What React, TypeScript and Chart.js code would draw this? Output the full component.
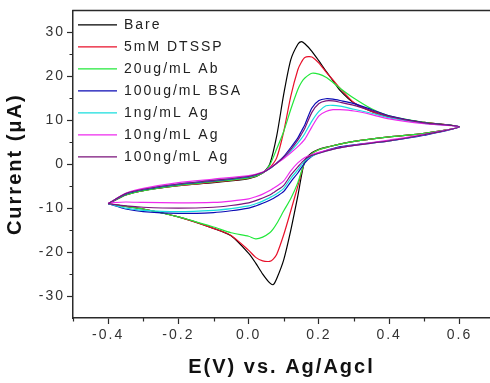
import React, { useEffect, useRef } from "react";
import { Chart, registerables } from "chart.js";

Chart.register(...registerables);

// ---- data ----
const seriesLabels = [
  "Bare",
  "5mM DTSSP",
  "20ug/mL Ab",
  "100ug/mL BSA",
  "1ng/mL Ag",
  "10ng/mL Ag",
  "100ng/mL Ag",
];
const seriesColors = ["#000000", "#e8102a", "#22e83a", "#0a0ab4", "#18dede", "#ee2aee", "#7a127a"];

// forward (anodic) scan potentials, V
const forwardE = [-0.4, -0.35, -0.3, -0.2, -0.1, 0, 0.04, 0.06, 0.08, 0.1, 0.12, 0.14, 0.15, 0.16, 0.18, 0.2, 0.22, 0.24, 0.26, 0.3, 0.35, 0.4, 0.5, 0.6];
// reverse (cathodic) scan potentials, V
const reverseE = [0.5, 0.4, 0.3, 0.25, 0.2, 0.18, 0.16, 0.14, 0.12, 0.1, 0.08, 0.07, 0.06, 0.04, 0.02, 0, -0.05, -0.1, -0.2, -0.3, -0.35, -0.4];

// currents, µA
const bareFwd = [-9.0, -7.0, -6.0, -4.9, -4.2, -3.3, -2.0, 0.0, 6.5, 16.0, 23.8, 27.3, 27.9, 27.4, 25.7, 23.5, 21.2, 19.0, 16.8, 13.9, 12.0, 10.7, 9.5, 8.5];
const bareRev = [7.0, 6.2, 5.2, 4.4, 3.4, 2.6, 0.8, -7.2, -15.0, -21.7, -26.0, -27.4, -27.0, -25.0, -22.5, -20.3, -16.3, -14.6, -12.0, -10.2, -9.6, -9.0];

const dtsspFwd = [-9.0, -7.0, -6.0, -4.9, -4.1, -3.2, -2.0, -0.8, 1.5, 7.5, 15.5, 21.5, 23.2, 24.3, 24.4, 23.0, 21.0, 19.2, 17.3, 14.0, 12.0, 10.7, 9.5, 8.5];
const dtsspRev = [7.0, 6.2, 5.2, 4.4, 3.3, 2.4, 0.6, -5.0, -10.6, -16.0, -20.5, -21.6, -22.1, -22.0, -21.2, -19.6, -16.2, -14.6, -12.0, -10.2, -9.6, -9.0];

const abFwd = [-9.0, -7.0, -6.0, -4.8, -4.0, -3.1, -2.0, -0.2, 3.5, 7.5, 12.5, 17.0, 18.6, 19.6, 20.7, 20.5, 19.8, 18.6, 17.3, 15.0, 12.6, 11.0, 9.5, 8.5];
const abRev = [7.0, 6.2, 5.2, 4.4, 3.3, 2.4, 0.5, -4.2, -7.8, -10.6, -13.5, -14.7, -15.6, -16.6, -17.0, -16.4, -15.6, -14.3, -12.0, -10.2, -9.6, -9.0];

const bsaFwd = [-9.0, -6.8, -5.8, -4.6, -3.8, -2.9, -1.9, -1.0, 0.3, 1.8, 3.8, 6.0, 7.5, 9.0, 12.8, 14.5, 14.9, 14.8, 14.5, 13.8, 12.4, 11.0, 9.4, 8.5];
const bsaRev = [6.6, 5.3, 4.4, 3.8, 2.6, 1.8, 0.3, -2.0, -4.0, -6.2, -7.3, -7.8, -8.2, -8.9, -9.5, -10.0, -10.6, -11.0, -11.2, -10.8, -10.2, -9.0];

const ag1Fwd = [-9.0, -6.7, -5.7, -4.5, -3.7, -2.8, -1.9, -1.0, 0.2, 1.5, 3.0, 4.8, 5.8, 7.0, 9.8, 12.0, 13.3, 13.4, 13.2, 12.5, 11.6, 10.6, 9.3, 8.5];
const ag1Rev = [6.7, 5.3, 4.3, 3.6, 2.5, 1.8, 0.8, -1.3, -3.2, -5.5, -6.7, -7.2, -7.6, -8.4, -9.0, -9.5, -10.1, -10.5, -10.8, -10.5, -10.0, -9.0];

const ag10Fwd = [-9.0, -6.6, -5.5, -4.2, -3.4, -2.6, -1.8, -0.8, 0.2, 1.3, 2.6, 4.0, 4.8, 5.7, 8.5, 11.0, 12.0, 12.4, 12.4, 12.1, 11.3, 10.3, 9.2, 8.5];
const ag10Rev = [6.8, 5.5, 4.3, 3.6, 2.7, 2.2, 1.5, 0.3, -1.5, -3.8, -5.0, -5.5, -6.0, -6.8, -7.4, -7.9, -8.4, -8.7, -8.8, -8.7, -8.6, -8.8];

const ag100Fwd = [-9.0, -6.7, -5.7, -4.5, -3.7, -2.8, -1.9, -1.0, 0.2, 1.6, 3.4, 5.5, 6.8, 8.2, 11.8, 13.8, 14.4, 14.4, 14.1, 13.4, 12.2, 10.9, 9.4, 8.5];
const ag100Rev = [6.7, 5.3, 4.3, 3.6, 2.5, 2.0, 1.1, -0.6, -2.5, -4.8, -6.0, -6.5, -7.0, -7.7, -8.3, -8.8, -9.4, -9.8, -10.0, -9.8, -9.5, -9.0];

const forwardCurrents = [bareFwd, dtsspFwd, abFwd, bsaFwd, ag1Fwd, ag10Fwd, ag100Fwd];
const reverseCurrents = [bareRev, dtsspRev, abRev, bsaRev, ag1Rev, ag10Rev, ag100Rev];

// axes
const xMin = -0.5;
const xMax = 0.687;
const yMin = -35;
const yMax = 35;
const xTicks = [-0.4, -0.2, 0, 0.2, 0.4, 0.6];
const xMinorTicks = [-0.5, -0.3, -0.1, 0.1, 0.3, 0.5];
const yTicks = [-30, -20, -10, 0, 10, 20, 30];
const yMinorTicks = [-25, -15, -5, 5, 15, 25];
const xTitle = "E(V) vs. Ag/Agcl";
const yTitle = "Current (\u03bcA)";

const FONT = "Arial, 'Liberation Sans', sans-serif";
const AXIS_COLOR = "#2a2a2a";

const framePlugin = {
  id: "originFrame",
  beforeDraw(chart: any) {
    (chart.ctx as any).letterSpacing = "2px";
  },
  afterDraw(chart: any) {
    const ctx = chart.ctx;
    const { left, right, top, bottom } = chart.chartArea;
    const xs = chart.scales.x;
    const ys = chart.scales.y;
    ctx.save();
    ctx.strokeStyle = AXIS_COLOR;
    ctx.lineWidth = 1.5;
    // top frame line
    ctx.beginPath();
    ctx.moveTo(left - 0.75, top);
    ctx.lineTo(right, top);
    ctx.stroke();
    // minor ticks
    ctx.lineWidth = 1.2;
    ctx.beginPath();
    xMinorTicks.forEach((v) => {
      const px = Math.round(xs.getPixelForValue(v)) + 0.5;
      ctx.moveTo(px, bottom);
      ctx.lineTo(px, bottom + 3.5);
    });
    yMinorTicks.forEach((v) => {
      const py = Math.round(ys.getPixelForValue(v)) + 0.5;
      ctx.moveTo(left, py);
      ctx.lineTo(left - 3.5, py);
    });
    ctx.stroke();
    // legend
    const ds = chart.data.datasets;
    ctx.font = "14px " + FONT;
    ctx.textBaseline = "middle";
    ctx.textAlign = "left";
    (ctx as any).letterSpacing = "2px";
    ds.forEach((d: any, i: number) => {
      const y = top + 14.5 + i * 22;
      ctx.strokeStyle = d.borderColor;
      ctx.lineWidth = 1.4;
      ctx.beginPath();
      ctx.moveTo(left + 5, y);
      ctx.lineTo(left + 44, y);
      ctx.stroke();
      ctx.fillStyle = "#222";
      ctx.fillText(d.label, left + 51, y + 0.5);
    });
    ctx.restore();
  },
};

export default function App() {
  const canvasRef = useRef<HTMLCanvasElement | null>(null);

  useEffect(() => {
    const canvas = canvasRef.current;
    if (!canvas) return;
    const datasets = seriesLabels.map((label, k) => ({
      label,
      data: forwardE
        .map((e, i) => ({ x: e, y: forwardCurrents[k][i] }))
        .concat(reverseE.map((e, i) => ({ x: e, y: reverseCurrents[k][i] }))),
      borderColor: seriesColors[k],
      backgroundColor: seriesColors[k],
      borderWidth: 1.2,
      pointRadius: 0,
      showLine: true,
      tension: 0.25,
      fill: false,
      order: seriesLabels.length - k,
    }));

    const chart = new Chart(canvas, {
      type: "scatter",
      data: { datasets },
      plugins: [framePlugin],
      options: {
        responsive: false,
        animation: false,
        devicePixelRatio: 1,
        layout: { padding: { top: 9, left: 0, right: 0, bottom: 0 } },
        plugins: { legend: { display: false }, tooltip: { enabled: false } },
        scales: {
          x: {
            type: "linear",
            min: xMin,
            max: xMax,
            afterBuildTicks: (s: any) => {
              s.ticks = xTicks.map((v) => ({ value: v }));
            },
            afterFit: (s: any) => {
              s.height = 65;
            },
            ticks: {
              font: { family: FONT, size: 14 },
              color: "#333",
              padding: 3,
              maxRotation: 0,
              autoSkip: false,
              callback: (v: any) => Number(v).toFixed(1),
            },
            grid: { drawOnChartArea: false, drawTicks: true, tickLength: 6, tickColor: AXIS_COLOR, tickWidth: 1.2 },
            border: { display: true, color: AXIS_COLOR, width: 1.5 },
            title: {
              display: true,
              text: xTitle,
              font: { family: FONT, size: 20, weight: "bold" },
              color: "#111",
              padding: { top: 0, bottom: 4 },
            },
          },
          y: {
            type: "linear",
            min: yMin,
            max: yMax,
            afterBuildTicks: (s: any) => {
              s.ticks = yTicks.map((v) => ({ value: v }));
            },
            afterFit: (s: any) => {
              s.width = 73;
            },
            ticks: {
              font: { family: FONT, size: 14 },
              color: "#333",
              padding: 2,
              autoSkip: false,
              callback: (v: any) => String(v),
            },
            grid: { drawOnChartArea: false, drawTicks: true, tickLength: 6, tickColor: AXIS_COLOR, tickWidth: 1.2 },
            border: { display: true, color: AXIS_COLOR, width: 1.5 },
            title: {
              display: true,
              text: yTitle,
              font: { family: FONT, size: 20, weight: "bold" },
              color: "#111",
              padding: { top: 3, bottom: 0 },
            },
          },
        },
      } as any,
    });
    return () => chart.destroy();
  }, []);

  return (
    <div style={{ position: "absolute", left: 0, top: 0, width: 490, height: 383, background: "#fff" }}>
      <canvas ref={canvasRef} width={490} height={383} style={{ display: "block", width: 490, height: 383 }} />
    </div>
  );
}
